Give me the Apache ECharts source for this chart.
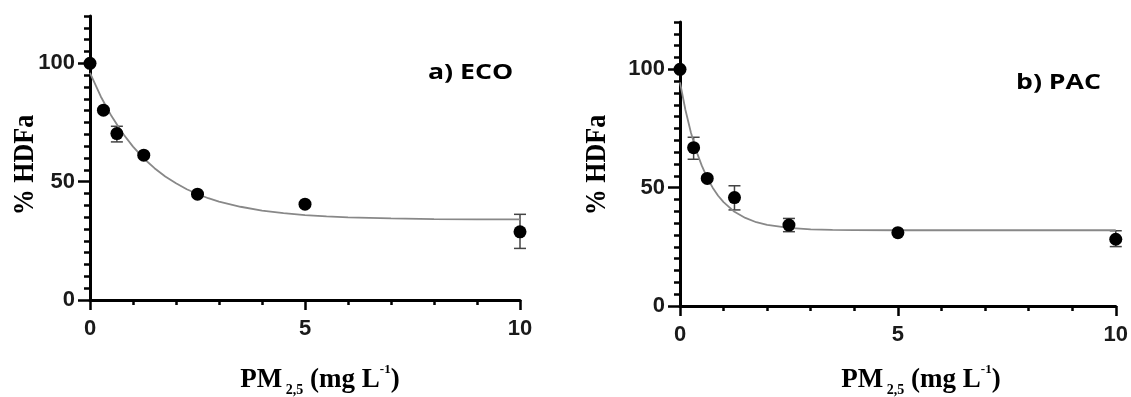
<!DOCTYPE html>
<html>
<head>
<meta charset="utf-8">
<script src="https://cdn.jsdelivr.net/npm/echarts@6/dist/echarts.min.js"></script>
<style>
  html, body { margin: 0; padding: 0; background: #fff; }
  #main { width: 1131px; height: 397px; }
</style>
</head>
<body>
<div id="main"></div>
<script>
// 浓度 (mg/L)
var doses = [0, 0.3125, 0.625, 1.25, 2.5, 5, 10];

// a) ECO
var ecoMean = [100, 80.2, 70.3, 61.2, 44.7, 40.5, 28.8];
var ecoErr = [[0.625, 66.8, 73.4], [10, 21.8, 36.2]];
var ecoFitX = [0, 0.25, 0.5, 0.75, 1, 1.25, 1.5, 1.75, 2, 2.25, 2.5, 2.75, 3, 3.5, 4, 4.5, 5, 5.5, 6, 7, 8, 9, 10];
var ecoFitY = [96, 86, 77.7, 70.7, 64.8, 59.8, 55.7, 52.2, 49.3, 46.8, 44.8, 43, 41.6, 39.4, 37.8, 36.7, 35.9, 35.3, 34.9, 34.5, 34.2, 34.1, 34.1];

// b) PAC
var pacMean = [100, 66.9, 53.9, 45.8, 34.2, 31.0, 28.2];
var pacErr = [[0.3125, 62.0, 71.3], [1.25, 40.6, 50.8], [2.5, 31.4, 37.0], [10, 25.1, 31.8]];
var pacFitX = [0, 0.125, 0.25, 0.375, 0.5, 0.625, 0.75, 0.875, 1, 1.25, 1.5, 1.75, 2, 2.5, 3, 3.5, 4, 5, 7.5, 10];
var pacFitY = [94.5, 82.8, 73.3, 65.5, 59.3, 54.1, 50, 46.6, 43.9, 39.8, 37.2, 35.4, 34.3, 33, 32.4, 32.2, 32.1, 32, 32, 32];

var xTicks = [0, 5, 10];
var yTicks = [0, 50, 100];
var panelNames = ['a) ECO', 'b) PAC'];

var chart = echarts.init(document.getElementById('main'));

function pairs(xs, ys) {
    return xs.map(function (x, i) { return [x, ys[i]]; });
}

var tickFont = { color: '#1a1a1a', fontFamily: 'Liberation Sans', fontWeight: 'bold', fontSize: 22 };

function xAxisOf(g) {
    return {
        type: 'value', gridIndex: g, min: 0, max: 10, interval: 5,
        axisLine: { show: true, onZero: false, lineStyle: { color: '#000', width: 3 } },
        axisTick: { show: true, length: 10, lineStyle: { color: '#000', width: 2.5 } },
        minorTick: { show: true, splitNumber: 5, length: 5, lineStyle: { color: '#000', width: 2.5 } },
        splitLine: { show: false },
        axisLabel: Object.assign({
            margin: 18,
            formatter: function (v) { return xTicks.indexOf(v) >= 0 ? String(v) : ''; }
        }, tickFont)
    };
}

// 短刻度 (每5) + 标签
function yAxisMinor(g) {
    return {
        type: 'value', gridIndex: g, min: 0, max: 120, interval: 5,
        axisLine: { show: true, onZero: false, lineStyle: { color: '#000', width: 3 } },
        axisTick: { show: true, length: 6, lineStyle: { color: '#000', width: 2.5 } },
        splitLine: { show: false },
        axisLabel: Object.assign({
            margin: 15,
            formatter: function (v) { return yTicks.indexOf(v) >= 0 ? String(v) : ''; }
        }, tickFont)
    };
}

// 长刻度 (0, 50, 100)
function yAxisMajor(g) {
    return {
        type: 'value', gridIndex: g, min: 0, max: 120, interval: 50, position: 'left',
        axisLine: { show: false },
        axisTick: { show: true, length: 12, customValues: yTicks, lineStyle: { color: '#000', width: 2.5 } },
        axisLabel: { show: false },
        splitLine: { show: false }
    };
}

function errSeries(data, xi, yi) {
    return {
        type: 'custom', xAxisIndex: xi, yAxisIndex: yi, z: 2,
        data: data,
        renderItem: function (params, api) {
            var lo = api.coord([api.value(0), api.value(1)]);
            var hi = api.coord([api.value(0), api.value(2)]);
            var w = 6;
            var st = { stroke: '#444', lineWidth: 1.5 };
            return {
                type: 'group',
                children: [
                    { type: 'line', shape: { x1: lo[0], y1: lo[1], x2: hi[0], y2: hi[1] }, style: st },
                    { type: 'line', shape: { x1: lo[0] - w, y1: lo[1], x2: lo[0] + w, y2: lo[1] }, style: st },
                    { type: 'line', shape: { x1: hi[0] - w, y1: hi[1], x2: hi[0] + w, y2: hi[1] }, style: st }
                ]
            };
        }
    };
}

function fitSeries(xs, ys, xi, yi) {
    return {
        type: 'line', xAxisIndex: xi, yAxisIndex: yi, z: 3,
        data: pairs(xs, ys), smooth: false,
        showSymbol: false, symbol: 'none',
        lineStyle: { color: '#888', width: 1.8 }
    };
}

function dotSeries(ys, xi, yi) {
    return {
        type: 'scatter', xAxisIndex: xi, yAxisIndex: yi, z: 4,
        data: pairs(doses, ys), symbolSize: 13,
        itemStyle: { color: '#000', opacity: 1 }
    };
}

var serif = 'Liberation Serif';
var titleRich = {
    m: { fontFamily: serif, fontWeight: 'bold', fontSize: 27, fill: '#000', lineHeight: 34 },
    s: { fontFamily: serif, fontWeight: 'bold', fontSize: 14, fill: '#000', lineHeight: 14, verticalAlign: 'bottom' },
    p: { fontFamily: serif, fontWeight: 'bold', fontSize: 13, fill: '#000', lineHeight: 13, verticalAlign: 'top' }
};

function xTitle(cx) {
    return {
        type: 'text', x: cx, y: 380,
        style: {
            text: '{m|PM}{s| 2,5}{m| (mg L}{p|-1}{m|)}', rich: titleRich,
            align: 'center', verticalAlign: 'middle'
        }
    };
}

function yTitle(cx) {
    return {
        type: 'text', x: cx, y: 165, rotation: Math.PI / 2, scaleY: 1.15,
        style: {
            text: '% HDFa', fontFamily: serif, fontWeight: 'bold', fontSize: 26, fill: '#000',
            align: 'center', verticalAlign: 'middle'
        }
    };
}

function panelLabel(text, lx, ly) {
    return {
        type: 'text', x: lx, y: ly, scaleX: 1.27,
        style: {
            text: text, fontFamily: 'Open Sans', fontWeight: 'bold', fontSize: 21, fill: '#000',
            align: 'left', verticalAlign: 'middle'
        }
    };
}

var option = {
    backgroundColor: '#fff',
    animation: false,
    grid: [
        { left: 90, top: 16, width: 430, height: 284 },
        { left: 680, top: 22, width: 438, height: 284 }
    ],
    xAxis: [xAxisOf(0), xAxisOf(1)],
    yAxis: [yAxisMinor(0), yAxisMajor(0), yAxisMinor(1), yAxisMajor(1)],
    series: [
        errSeries(ecoErr, 0, 0),
        fitSeries(ecoFitX, ecoFitY, 0, 0),
        dotSeries(ecoMean, 0, 0),
        errSeries(pacErr, 1, 2),
        fitSeries(pacFitX, pacFitY, 1, 2),
        dotSeries(pacMean, 1, 2)
    ],
    graphic: [
        xTitle(320), xTitle(921),
        yTitle(25), yTitle(597),
        panelLabel(panelNames[0], 428, 73),
        panelLabel(panelNames[1], 1016, 83)
    ]
};

chart.setOption(option);
</script>
</body>
</html>
